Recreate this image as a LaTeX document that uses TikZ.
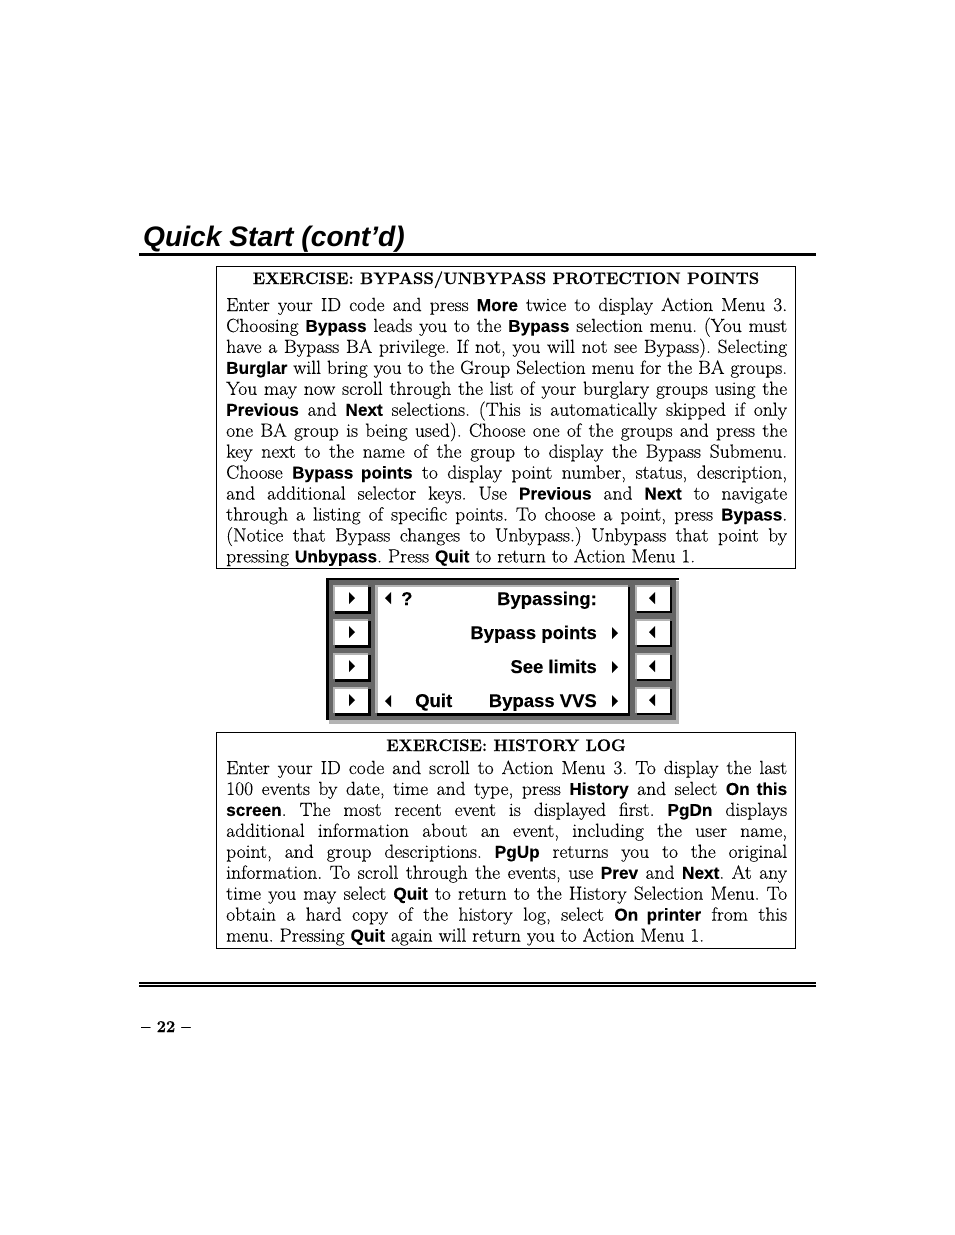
\documentclass[tikz,border=0pt]{standalone}
\usepackage{fontspec}
\newfontfamily\sansbold{Liberation Sans}[BoldFeatures={FakeBold=0.2}]
\newfontfamily\bodyfont{Latin Modern Roman}[FakeStretch=1.03,FakeBold=0.1]
\newfontfamily\headfont{Latin Modern Roman}[BoldFeatures={FakeBold=0.4}]
\newcommand{\bk}[1]{{\sansbold\bfseries\fontsize{17.2}{20}\selectfont #1}}
\newcommand{\jl}[1]{\hbox to 561pt{#1}}
\definecolor{paneldark}{HTML}{666666}
\definecolor{panellight}{HTML}{B4B4B4}
\tikzset{
  exbox/.style={draw,line width=1pt,anchor=north west,inner sep=0pt,outer sep=0pt},
  bodytext/.style={anchor=base west,inner sep=0pt,font=\frenchspacing\bodyfont\fontsize{19}{21}\selectfont},
  headtext/.style={anchor=base,inner sep=0pt,font=\headfont\fontsize{16.7}{20}\selectfont\bfseries},
  paneltext/.style={inner sep=0pt,font=\sansbold\bfseries\fontsize{18.5}{22}\selectfont},
}
\begin{document}
\begin{tikzpicture}[x=1pt,y=-1pt]
  \useasboundingbox (0,0) rectangle (954,1235);
  \node[anchor=base west,inner sep=0pt,font=\sansbold\bfseries\itshape\fontsize{28.2}{34}\selectfont] (pagetitle) at (143,246) {Quick Start (cont’d)};
  \draw[line width=2.2pt] (139,254.5)--(816,254.5);

  % first exercise
  \node[exbox,minimum width=579pt,minimum height=302pt] (bypassbox) at (216.5,266.5) {};
  \node[headtext] (bypasshead) at (506,284) {EXERCISE: BYPASS/UNBYPASS PROTECTION POINTS};
  \node[bodytext] (bypassbody) at (226,311) {\vtop{\baselineskip=20.95pt
    \jl{Enter your ID code and press \bk{More} twice to display Action Menu 3.}
    \jl{Choosing \bk{Bypass} leads you to the \bk{Bypass} selection menu. (You must}
    \jl{have a Bypass BA privilege. If not, you will not see Bypass). Selecting}
    \jl{\bk{Burglar} will bring you to the Group Selection menu for the BA groups.}
    \jl{You may now scroll through the list of your burglary groups using the}
    \jl{\bk{Previous} and \bk{Next} selections. (This is automatically skipped if only}
    \jl{one BA group is being used). Choose one of the groups and press the}
    \jl{key next to the name of the group to display the Bypass Submenu.}
    \jl{Choose \bk{Bypass points} to display point number, status, description,}
    \jl{and additional selector keys. Use \bk{Previous} and \bk{Next} to navigate}
    \jl{through a listing of specific points. To choose a point, press \bk{Bypass}.}
    \jl{(Notice that Bypass changes to Unbypass.) Unbypass that point by}
    \hbox{pressing \bk{Unbypass}. Press \bk{Quit} to return to Action Menu 1.}}};

  % keypad panel
  \fill[panellight] (329,581) rectangle (679,723.5);
  \fill[paneldark] (326,578) rectangle (676,720);
  \fill (326,578) rectangle (679,580);
  \fill (326,578) rectangle (329,720);
  \fill (377,587) rectangle (630,716);
  \fill[panellight] (375,585) rectangle (628,713);
  \fill[white] (378,587) rectangle (628,713);
  \foreach \y in {585,619,653,687}{
    \fill (335,587+\y-585) rectangle (371,\y+29);
    \fill[panellight] (333,\y) rectangle (368,\y+26);
    \fill[white] (335,\y+2) rectangle (368,\y+26);
    \fill (349,\y+7) -- (355,\y+13) -- (349,\y+19) -- cycle;
    \fill (637,\y+2) rectangle (672,\y+28);
    \fill[panellight] (635,\y) rectangle (670,\y+26);
    \fill[white] (637,\y+2) rectangle (670,\y+26);
    \fill (655,\y+7) -- (649,\y+13) -- (655,\y+19) -- cycle;
  }
  \foreach \y in {633,667,701}{
    \fill (612,\y-6) -- (618,\y) -- (612,\y+6) -- cycle;
  }
  \foreach \y in {598,701}{
    \fill (391,\y-6) -- (385,\y) -- (391,\y+6) -- cycle;
  }
  \node[paneltext,anchor=base west] (helpmark) at (401,605) {?};
  \node[paneltext,anchor=base east] (bypassing) at (597,605) {Bypassing:};
  \node[paneltext,anchor=base east] (bypasspoints) at (597,639) {Bypass points};
  \node[paneltext,anchor=base east] (seelimits) at (597,673) {See limits};
  \node[paneltext,anchor=base west] (quitkey) at (415,707) {Quit};
  \node[paneltext,anchor=base east] (bypassvvs) at (597,707) {Bypass VVS};

  % second exercise
  \node[exbox,minimum width=579pt,minimum height=216pt] (historybox) at (216.5,732.5) {};
  \node[headtext] (historyhead) at (506,751) {EXERCISE: HISTORY LOG};
  \node[bodytext] (historybody) at (226,774) {\vtop{\baselineskip=20.95pt
    \jl{Enter your ID code and scroll to Action Menu 3. To display the last}
    \jl{100 events by date, time and type, press \bk{History} and select \bk{On this}}
    \jl{\bk{screen}. The most recent event is displayed first. \bk{PgDn} displays}
    \jl{additional information about an event, including the user name,}
    \jl{point, and group descriptions. \bk{PgUp} returns you to the original}
    \jl{information. To scroll through the events, use \bk{Prev} and \bk{Next}. At any}
    \jl{time you may select \bk{Quit} to return to the History Selection Menu. To}
    \jl{obtain a hard copy of the history log, select \bk{On printer} from this}
    \hbox{menu. Pressing \bk{Quit} again will return you to Action Menu 1.}}};

  % footer
  \draw[line width=1.4pt] (139,982.8)--(816,982.8);
  \draw[line width=1.8pt] (139,985.8)--(816,985.8);
  \node[anchor=base west,inner sep=0pt,font=\headfont\fontsize{16.5}{20}\selectfont\bfseries] (pagenum) at (141,1032) {– 22 –};
\end{tikzpicture}
\end{document}
